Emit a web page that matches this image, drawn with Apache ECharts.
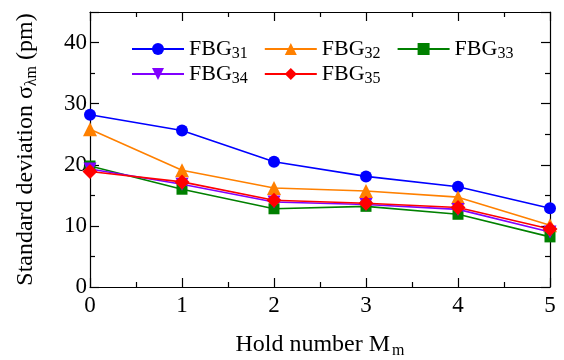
<!DOCTYPE html>
<html><head><meta charset="utf-8">
<script src="https://cdn.jsdelivr.net/npm/echarts@6/dist/echarts.min.js"></script>
<style>html,body{margin:0;padding:0;background:#fff}#c{width:564px;height:360px}</style>
</head><body><div id="c"></div>
<script>
const holdNumbers = [0, 1, 2, 3, 4, 5];
const fbg31 = [28.2, 25.6, 20.5, 18.1, 16.4, 12.9];
const fbg32 = [25.8, 19.1, 16.2, 15.7, 14.7, 10.1];
const fbg33 = [19.8, 16.0, 12.8, 13.2, 11.9, 8.2];
const fbg34 = [19.3, 16.8, 13.9, 13.5, 12.7, 9.0];
const fbg35 = [18.9, 17.2, 14.2, 13.7, 13.0, 9.5];
const seriesNames = ['FBG31', 'FBG32', 'FBG33', 'FBG34', 'FBG35'];
const seriesVals = [fbg31, fbg32, fbg33, fbg34, fbg35];
const colors = ['#0000ff', '#ff8000', '#008000', '#8000ff', '#ff0000'];
const symbols = ['circle', 'triangle', 'rect', 'path://M0,0 L10,0 L5,9 Z', 'diamond'];
const symbolSizes = [12, 14, 11, 13, 15];

const FONT = 'Liberation Serif';
const chart = echarts.init(document.getElementById('c'), null, {renderer: 'canvas'});

const legendRich = {
  a: {fontFamily: FONT, fontSize: 22, color: '#000'},
  s: {fontFamily: FONT, fontSize: 16, color: '#000', padding: [10, 0, 0, 0]}
};
const legendFmt = n => '{a|FBG}{s|' + n.slice(3) + '}';

const axisCommon = {
  axisLine: {show: true, onZero: false, lineStyle: {color: '#000', width: 1.2}},
  axisTick: {show: true, inside: true, length: 9, lineStyle: {color: '#000', width: 1.2}},
  minorTick: {show: true, splitNumber: 2, length: 5, lineStyle: {color: '#000', width: 1.2}},
  splitLine: {show: false}
};

chart.setOption({
  animation: false,
  backgroundColor: '#fff',
  grid: {left: 90, right: 14, top: 12, bottom: 73, show: false, containLabel: false, outerBoundsMode: 'none'},
  legend: [
    {data: seriesNames.slice(0, 3), left: 126, top: 33, itemWidth: 52, itemHeight: 15, itemGap: 16,
     formatter: legendFmt, textStyle: {rich: legendRich}},
    {data: seriesNames.slice(3), left: 126, top: 58, itemWidth: 52, itemHeight: 15, itemGap: 16,
     formatter: legendFmt, textStyle: {rich: legendRich}}
  ],
  xAxis: [
    Object.assign({}, axisCommon, {type: 'value', min: 0, max: 5, interval: 1,
      name: '{a|Hold number M}{s|m}', nameLocation: 'middle', nameGap: 44,
      nameTextStyle: {rich: {a: {fontFamily: FONT, fontSize: 24, color: '#000'},
                              s: {fontFamily: FONT, fontSize: 16, color: '#000', padding: [12, 0, 0, 2]}}},
      axisLabel: {fontFamily: FONT, fontSize: 23, color: '#000', margin: 7}}),
    Object.assign({}, axisCommon, {type: 'value', min: 0, max: 5, interval: 1, position: 'top',
      axisLabel: {show: false}})
  ],
  yAxis: [
    Object.assign({}, axisCommon, {type: 'value', min: 0, max: 45, interval: 10,
      name: '{a|Standard deviation σ}{s|λm}{a| (pm)}', nameLocation: 'middle', nameGap: 50,
      nameTextStyle: {rich: {a: {fontFamily: FONT, fontSize: 24, color: '#000'},
                              s: {fontFamily: FONT, fontSize: 16, color: '#000', padding: [12, 0, 0, 0]}}},
      axisLabel: {fontFamily: FONT, fontSize: 23, color: '#000', margin: 3, showMaxLabel: false,
        formatter: v => (v % 10 === 0 ? String(v) : '')}}),
    Object.assign({}, axisCommon, {type: 'value', min: 0, max: 45, interval: 10, position: 'right',
      axisLabel: {show: false}})
  ],
  series: seriesNames.map((n, i) => ({
    name: n, type: 'line', xAxisIndex: 0, yAxisIndex: 0,
    data: holdNumbers.map((x, j) => [x, seriesVals[i][j]]),
    symbol: symbols[i], symbolSize: symbolSizes[i],
    lineStyle: {color: colors[i], width: 1.6},
    itemStyle: {color: colors[i]},
    z: 2 + i
  }))
});
</script></body></html>
